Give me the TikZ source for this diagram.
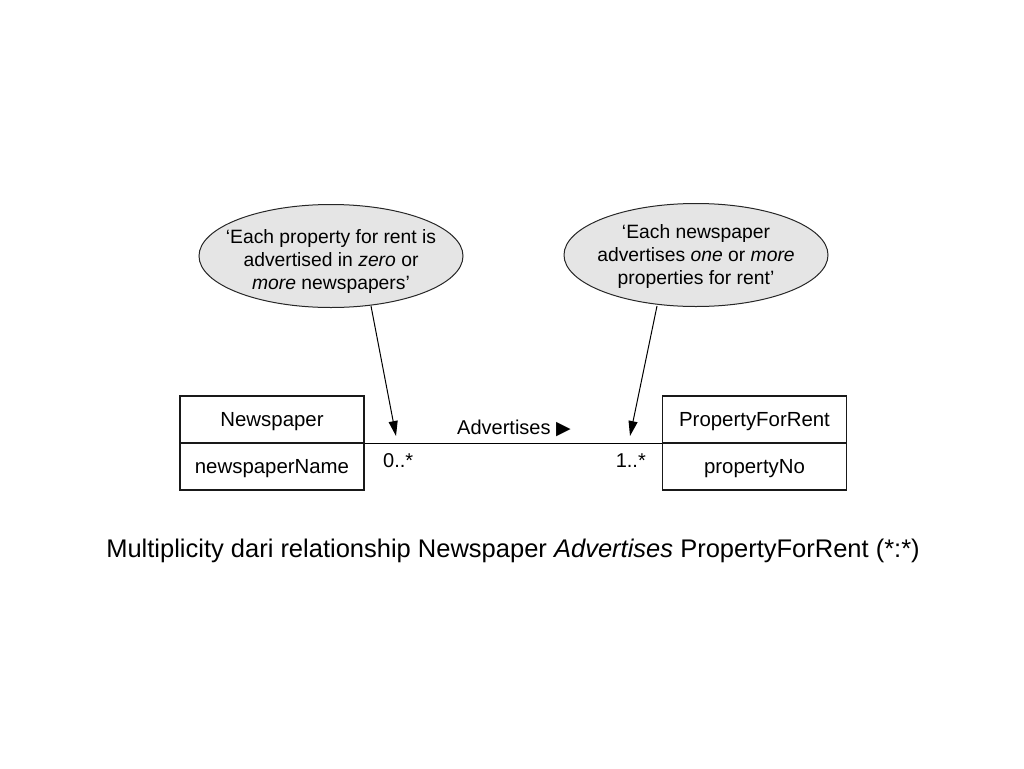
\documentclass[tikz,border=0pt]{standalone}
\usepackage{fontspec}
\setmainfont{Liberation Sans}
\newfontfamily\symfont{DejaVu Sans}
\usetikzlibrary{arrows.meta,shapes.geometric}
\begin{document}
\begin{tikzpicture}[x=1pt,y=-1pt,
  bubble/.style={ellipse,draw=black!85,line width=1pt,fill=black!10,minimum width=264pt,minimum height=103pt,inner sep=0pt},
  bubbletext/.style={align=center,inner sep=0pt,font=\fontsize{19.3}{23}\selectfont},
  cell/.style={draw=black!90,line width=1.1pt,minimum width=184pt,minimum height=47pt,inner sep=0pt,text height=18pt,text depth=4pt,font=\fontsize{20.4}{22}\selectfont},
  lbl/.style={font=\fontsize{20}{22}\selectfont,inner sep=0pt},
  pointer/.style={line width=1pt,-{Triangle[length=15pt,width=9pt]}}]
\useasboundingbox (0,0) rectangle (1024,768);
\node[bubble] (e1) at (331,256) {};
\node[bubbletext] (t1) at (331,262) {‘Each property for rent is\\advertised in \textit{zero} or\\\textit{more} newspapers’};
\node[bubble] (e2) at (696,255) {};
\node[bubbletext] (t2) at (696,257) {‘Each newspaper\\advertises \textit{one} or \textit{more}\\properties for rent’};
\node[cell] (n1) at (272,419.5) {Newspaper};
\node[cell] (n2) at (272,466.5) {newspaperName};
\node[cell] (p1) at (754.5,419.5) {PropertyForRent};
\node[cell] (p2) at (754.5,466.5) {propertyNo};
\coordinate (s1) at (371,306);
\coordinate (s2) at (657,306);
\coordinate (ta) at (396,436);
\coordinate (tb) at (630,436);
\draw[line width=1.1pt] (n1.south east) -- (p1.south west);
\node[lbl] (adv) at (514,428) {Advertises {\symfont\fontsize{19}{19}\selectfont▶}};
\node[lbl,anchor=west] (m1) at (383,461) {0..*};
\node[lbl,anchor=east] (m2) at (646,461) {1..*};
\draw[pointer] (s1) -- (ta);
\draw[pointer] (s2) -- (tb);
\node[font=\fontsize{25.5}{28}\selectfont] (cap) at (513,551) {Multiplicity dari relationship Newspaper \textit{Advertises} PropertyForRent (*:*)};
\end{tikzpicture}
\end{document}
